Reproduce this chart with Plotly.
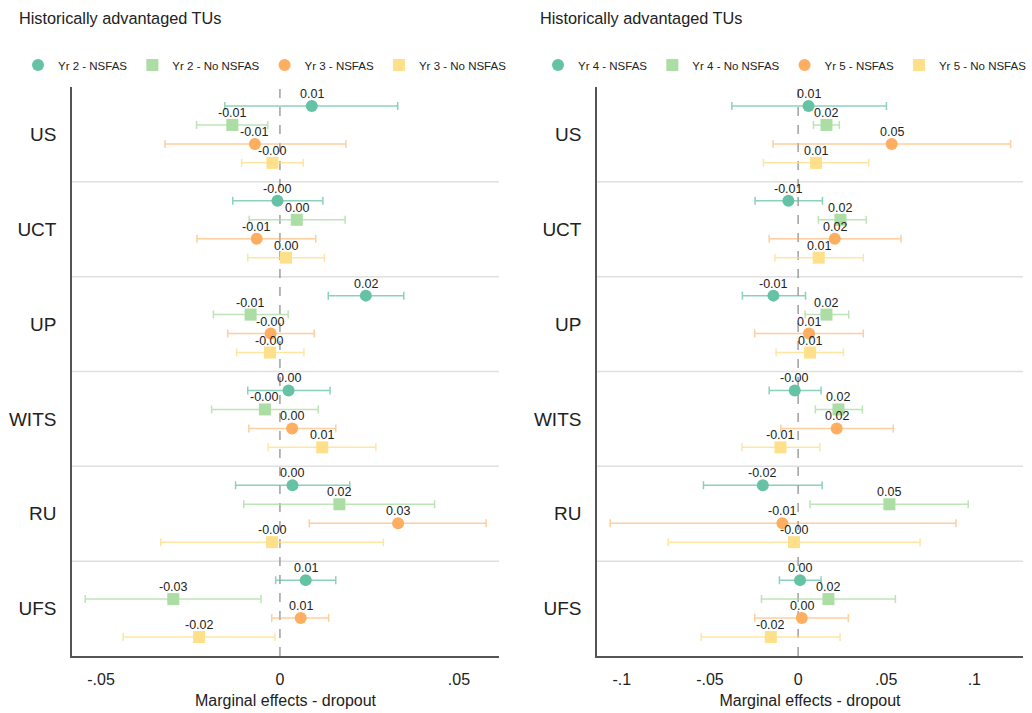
import plotly.graph_objects as go

universities = ["US", "UCT", "UP", "WITS", "RU", "UFS"]

# ---- Left panel: Years 2 and 3 ----
yr2_nsfas_est = [0.0089, -0.0007, 0.0240, 0.0024, 0.0035, 0.0072]
yr2_nsfas_lo = [-0.0154, -0.0132, 0.0135, -0.0090, -0.0124, -0.0012]
yr2_nsfas_hi = [0.0329, 0.0120, 0.0346, 0.0140, 0.0195, 0.0156]

yr2_nonsfas_est = [-0.0133, 0.0047, -0.0082, -0.0042, 0.0166, -0.0298]
yr2_nonsfas_lo = [-0.0233, -0.0086, -0.0186, -0.0191, -0.0101, -0.0544]
yr2_nonsfas_hi = [-0.0034, 0.0182, 0.0023, 0.0107, 0.0432, -0.0053]

yr3_nsfas_est = [-0.0070, -0.0065, -0.0026, 0.0034, 0.0330, 0.0058]
yr3_nsfas_lo = [-0.0321, -0.0232, -0.0146, -0.0087, 0.0082, -0.0023]
yr3_nsfas_hi = [0.0184, 0.0100, 0.0096, 0.0156, 0.0576, 0.0136]

yr3_nonsfas_est = [-0.0021, 0.0017, -0.0028, 0.0118, -0.0022, -0.0226]
yr3_nonsfas_lo = [-0.0107, -0.0090, -0.0121, -0.0033, -0.0333, -0.0438]
yr3_nonsfas_hi = [0.0065, 0.0124, 0.0067, 0.0268, 0.0289, -0.0014]

# ---- Right panel: Years 4 and 5 ----
yr4_nsfas_est = [0.0059, -0.0055, -0.0140, -0.0019, -0.0200, 0.0011]
yr4_nsfas_lo = [-0.0376, -0.0244, -0.0316, -0.0164, -0.0537, -0.0106]
yr4_nsfas_hi = [0.0501, 0.0138, 0.0042, 0.0130, 0.0136, 0.0130]

yr4_nonsfas_est = [0.0161, 0.0240, 0.0161, 0.0229, 0.0518, 0.0172]
yr4_nonsfas_lo = [0.0087, 0.0115, 0.0040, 0.0098, 0.0068, -0.0208]
yr4_nonsfas_hi = [0.0234, 0.0387, 0.0287, 0.0365, 0.0965, 0.0552]

yr5_nsfas_est = [0.0531, 0.0208, 0.0062, 0.0219, -0.0089, 0.0021]
yr5_nsfas_lo = [-0.0142, -0.0164, -0.0246, -0.0098, -0.1066, -0.0246]
yr5_nsfas_hi = [0.1206, 0.0584, 0.0370, 0.0540, 0.0896, 0.0285]

yr5_nonsfas_est = [0.0102, 0.0117, 0.0068, -0.0100, -0.0023, -0.0155]
yr5_nonsfas_lo = [-0.0197, -0.0132, -0.0125, -0.0319, -0.0737, -0.0550]
yr5_nonsfas_hi = [0.0401, 0.0370, 0.0257, 0.0123, 0.0692, 0.0238]

left_ticks = [-0.05, 0, 0.05]
left_ticktext = ["-.05", "0", ".05"]
right_ticks = [-0.1, -0.05, 0, 0.05, 0.1]
right_ticktext = ["-.1", "-.05", "0", ".05", ".1"]

panel_title = "Historically advantaged TUs"
x_title = "Marginal effects - dropout"

# ---- styles ----
FONT = "Liberation Sans, Arial, sans-serif"
styles = [
    dict(symbol="circle", color="#66c2a5", err="rgba(102,194,165,0.75)"),
    dict(symbol="square", color="#abdda4", err="rgba(171,221,164,0.8)"),
    dict(symbol="circle", color="#fdae61", err="rgba(253,174,97,0.6)"),
    dict(symbol="square", color="#fee08b", err="rgba(254,224,139,0.8)"),
]

fig = go.Figure()

left_series = [
    ("Yr 2 - NSFAS", yr2_nsfas_est, yr2_nsfas_lo, yr2_nsfas_hi),
    ("Yr 2 - No NSFAS", yr2_nonsfas_est, yr2_nonsfas_lo, yr2_nonsfas_hi),
    ("Yr 3 - NSFAS", yr3_nsfas_est, yr3_nsfas_lo, yr3_nsfas_hi),
    ("Yr 3 - No NSFAS", yr3_nonsfas_est, yr3_nonsfas_lo, yr3_nonsfas_hi),
]
right_series = [
    ("Yr 4 - NSFAS", yr4_nsfas_est, yr4_nsfas_lo, yr4_nsfas_hi),
    ("Yr 4 - No NSFAS", yr4_nonsfas_est, yr4_nonsfas_lo, yr4_nonsfas_hi),
    ("Yr 5 - NSFAS", yr5_nsfas_est, yr5_nsfas_lo, yr5_nsfas_hi),
    ("Yr 5 - No NSFAS", yr5_nonsfas_est, yr5_nonsfas_lo, yr5_nonsfas_hi),
]

n_series = 4
for panel, (series, xa, ya, lg) in enumerate(
    [(left_series, "x", "y", "legend"), (right_series, "x2", "y2", "legend2")]
):
    for k, (name, est, lo, hi) in enumerate(series):
        st = styles[k]
        ys = [i + (k + 1) / (n_series + 1) for i in range(len(universities))]
        fig.add_trace(
            go.Scatter(
                x=est,
                y=ys,
                mode="markers",
                name=name,
                marker=dict(symbol=st["symbol"], color=st["color"], size=12,
                            line=dict(width=0)),
                error_x=dict(
                    type="data",
                    symmetric=False,
                    array=[h - e for h, e in zip(hi, est)],
                    arrayminus=[e - l for e, l in zip(est, lo)],
                    color=st["err"],
                    thickness=1.5,
                    width=4,
                ),
                xaxis=xa,
                yaxis=ya,
                legend=lg,
                cliponaxis=False,
            )
        )
        # value labels just above each marker
        for xv, yv in zip(est, ys):
            fig.add_annotation(
                x=xv, y=yv, xref=xa, yref=ya, text=f"{xv:.2f}", showarrow=False,
                yshift=12, xanchor="center", yanchor="middle",
                font=dict(family=FONT, size=12.5, color="#222"),
            )

W, H = 1032, 713
y_dom = [1 - 656 / H, 1 - 87 / H]
left_dom = [72 / W, 499 / W]
right_dom = [597 / W, 1023 / W]

ycenters = [i + 0.5 for i in range(len(universities))]

common_y = dict(
    range=[len(universities), 0],
    tickvals=ycenters,
    ticktext=universities,
    showgrid=False,
    zeroline=False,
    showline=True,
    linecolor="#555",
    linewidth=1.5,
    ticks="",
    automargin=False,
    tickfont=dict(family=FONT, size=19, color="#222"),
    ticklabelstandoff=10,
)
common_x = dict(
    showgrid=False,
    zeroline=False,
    showline=True,
    linecolor="#555",
    linewidth=1.5,
    ticks="",
    automargin=False,
    tickfont=dict(family=FONT, size=16, color="#222"),
    ticklabelstandoff=8,
    title=dict(text=x_title, font=dict(family=FONT, size=16, color="#222"), standoff=8),
)

legend_common = dict(orientation="h", yanchor="middle", xanchor="right",
                     font=dict(family=FONT, size=11.5, color="#222"), itemwidth=30,
                     tracegroupgap=0, bgcolor="rgba(0,0,0,0)", borderwidth=0)

fig.update_layout(
    width=W,
    height=H,
    margin=dict(l=0, r=0, t=0, b=0),
    paper_bgcolor="white",
    plot_bgcolor="white",
    font=dict(family=FONT, color="#222"),
    xaxis=dict(domain=left_dom, anchor="y", range=[-0.0581, 0.0612],
               tickvals=left_ticks, ticktext=left_ticktext, **common_x),
    yaxis=dict(domain=y_dom, anchor="x", **common_y),
    xaxis2=dict(domain=right_dom, anchor="y2", range=[-0.1141, 0.1276],
                tickvals=right_ticks, ticktext=right_ticktext, **common_x),
    yaxis2=dict(domain=y_dom, anchor="x2", **common_y),
    legend=dict(x=512 / W, y=1 - 65 / H, **legend_common),
    legend2=dict(x=1032 / W, y=1 - 65 / H, **legend_common),
    showlegend=True,
)

# Title annotations
for xpos in [17 / W, 538 / W]:
    fig.add_annotation(text=panel_title, xref="paper", yref="paper", x=xpos, y=1 - 18 / H,
                       xanchor="left", yanchor="middle", showarrow=False,
                       font=dict(family=FONT, size=16.3, color="#222"))

# Band separators and zero reference lines
for xa, ya in [("x", "y"), ("x2", "y2")]:
    for b in range(1, len(universities)):
        fig.add_shape(type="line", xref=f"{xa} domain", yref=ya, x0=0, x1=1, y0=b, y1=b,
                      line=dict(color="#e0e0e0", width=1.5), layer="below")
    fig.add_shape(type="line", xref=xa, yref=f"{ya} domain", x0=0, x1=0, y0=0, y1=1,
                  line=dict(color="#888", width=1.2, dash="dash"), layer="below")

fig.write_html(
    "out.html",
    config={"displayModeBar": False},
    post_script="document.body.style.margin='0';document.body.style.padding='0';",
)
